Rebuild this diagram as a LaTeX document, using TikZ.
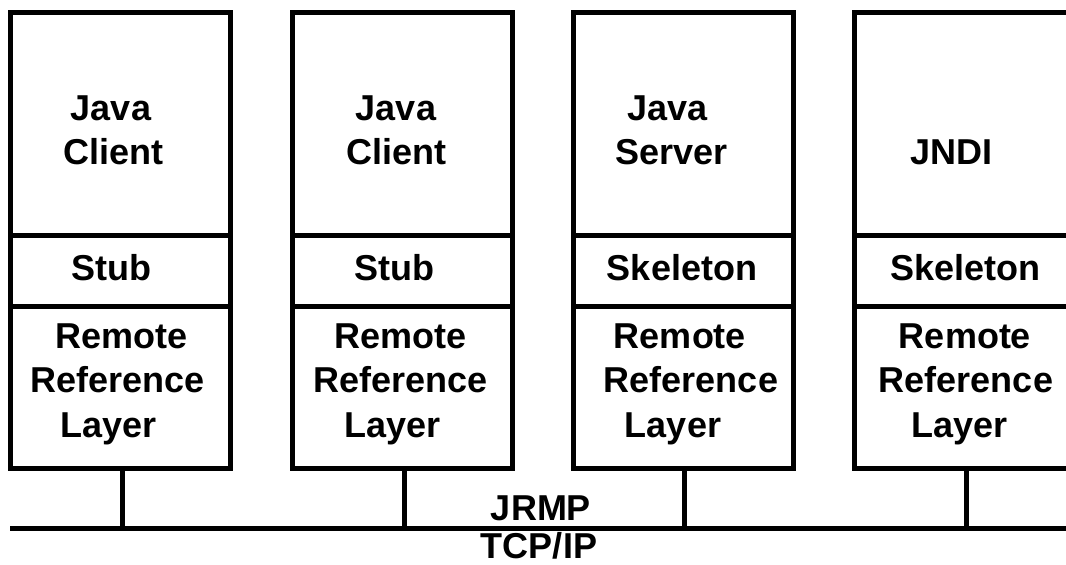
\documentclass[tikz,border=0pt]{standalone}
\usepackage{fontspec}
\setmainfont{Liberation Sans}
\tikzset{
  layer/.style={draw, line width=5pt, rectangle, minimum width=220pt, inner sep=0pt, outer sep=0pt},
  lbl/.style={anchor=base, inner sep=0pt, outer sep=0pt, font=\fontsize{36}{44}\selectfont\bfseries},
  wire/.style={line width=5pt},
}
\begin{document}
\begin{tikzpicture}[x=1pt, y=-1pt]
\useasboundingbox (0,0) rectangle (1066,565);
\clip (0,0) rectangle (1066,565);
% layer rectangles
\foreach \i/\cx in {1/120.5, 2/402.5, 3/683.5, 4/964.5} {
  \node[layer, minimum height=223pt] (top\i) at (\cx,124) {};
  \node[layer, minimum height=71pt] (mid\i) at (\cx,271) {};
  \node[layer, minimum height=161.5pt] (rrl\i) at (\cx,387.25) {};
}
% bus
\coordinate (busL) at (10,528.5);
\coordinate (busR) at (1066,528.5);
\draw[wire] (busL) -- (busR);
\coordinate (c1) at (122,528.5);
\coordinate (c2) at (404,528.5);
\coordinate (c3) at (684.5,528.5);
\coordinate (c4) at (966,528.5);
\foreach \i in {1,2,3,4} {
  \draw[wire] (rrl\i.south -| c\i) -- (c\i);
}
% box 1
\node[lbl] (j1) at (111,120) {Java};
\node[lbl] (cl1) at (113.5,164) {Client};
\node[lbl] (st1) at (111,280) {Stub};
\node[lbl] (re1) at (122,348) {Remote};
\node[lbl] (rf1) at (118,392) {Reference};
\node[lbl] (ly1) at (108.5,437) {Layer};
% box 2
\node[lbl] (j2) at (396,120) {Java};
\node[lbl] (cl2) at (396.5,164) {Client};
\node[lbl] (st2) at (394.5,280) {Stub};
\node[lbl] (re2) at (400.5,348) {Remote};
\node[lbl] (rf2) at (401,392) {Reference};
\node[lbl] (ly2) at (392.5,437) {Layer};
% box 3
\node[lbl] (j3) at (667.5,120) {Java};
\node[lbl] (sv3) at (671.5,164) {Server};
\node[lbl] (sk3) at (682,280) {Skeleton};
\node[lbl] (re3) at (680,348) {Remote};
\node[lbl] (rf3) at (691,392) {Reference};
\node[lbl] (ly3) at (673,437) {Layer};
% box 4
\node[lbl] (jn4) at (951.5,164) {JNDI};
\node[lbl] (sk4) at (965.5,280) {Skeleton};
\node[lbl] (re4) at (965,348) {Remote};
\node[lbl] (rf4) at (966,392) {Reference};
\node[lbl] (ly4) at (959.5,437) {Layer};
% protocol labels
\node[lbl] (jrmp) at (541,520) {JRMP};
\node[lbl] (tcp) at (539,558) {TCP/IP};
\end{tikzpicture}
\end{document}
